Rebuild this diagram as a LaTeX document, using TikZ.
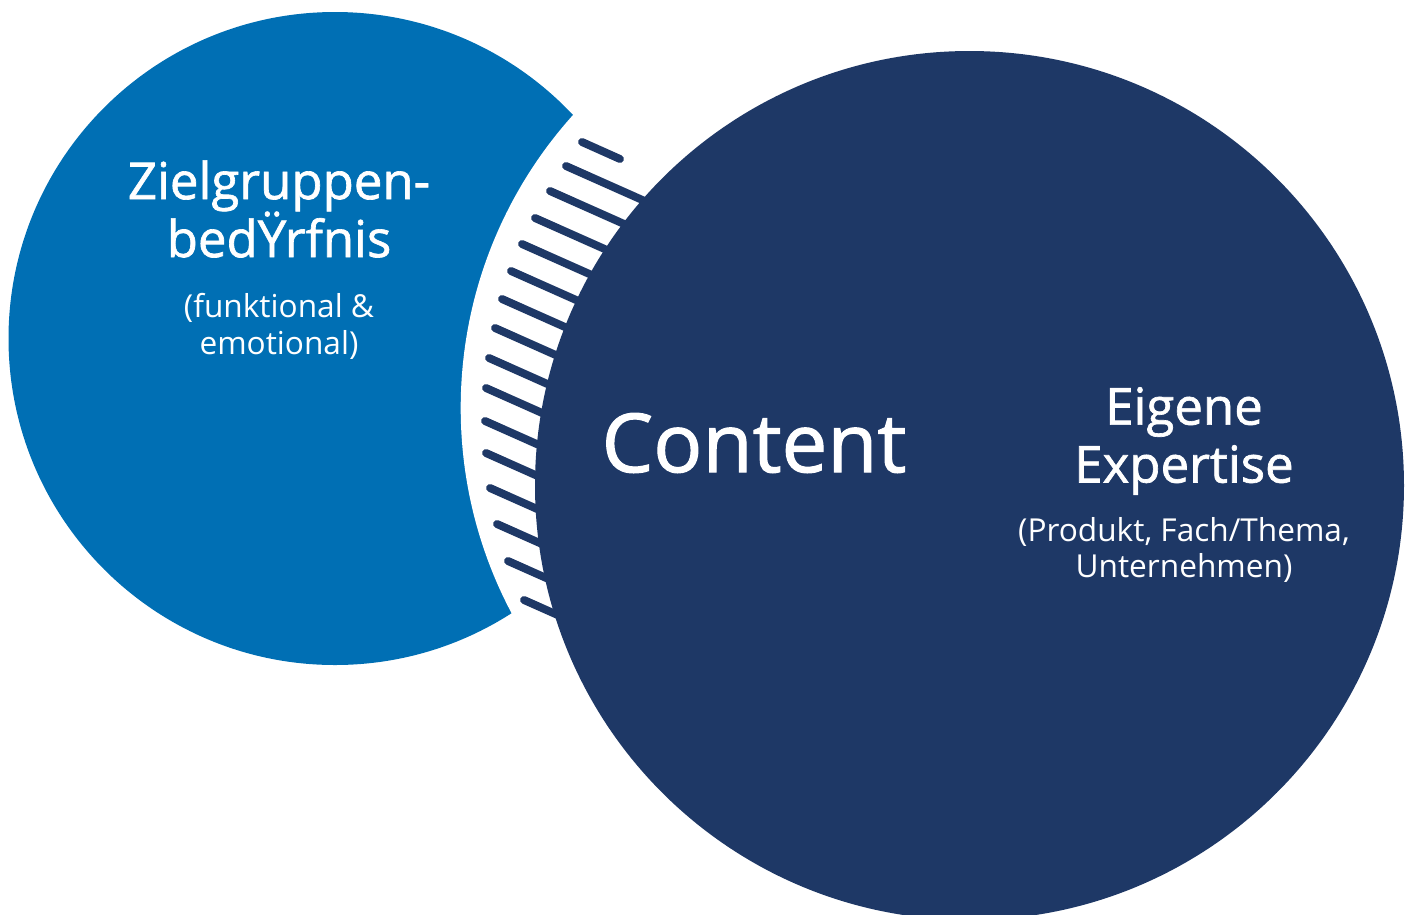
\documentclass[tikz,border=0pt]{standalone}
\usepackage{fontspec}
\setmainfont{Open Sans}
\newfontfamily\headfont{Open Sans}[FakeBold=1.3]

\definecolor{zielblau}{RGB}{0,111,180}
\definecolor{expertblau}{RGB}{30,56,102}

\begin{document}
\begin{tikzpicture}[
  x=0.02cm, y=-0.02cm,
  schraffur/.style={draw=expertblau, line width=4.5pt, line cap=round},
  titel/.style={text=white, align=center, inner sep=0pt,
    font=\headfont\fontsize{29}{33}\selectfont},
  zusatz/.style={text=white, align=center, inner sep=0pt,
    font=\fontsize{18}{21}\selectfont}
]
\useasboundingbox (0,0) rectangle (1411,914);
\clip (0,0) rectangle (1411,914);

% Zielgruppe, rechts ausgeschnitten
\fill[zielblau] (335,338.5) circle [radius=326.5];
\fill[white] (899,408) circle [radius=438.3];

% Schraffur im Zwischenraum
\draw[schraffur] (582,142) -- ++(38,17);
\foreach \x/\y in {566/166, 550/191, 535/218, 522/244, 511/271, 502/299,
                   495/328, 489/358, 486/388, 485/421, 486/453, 490/488,
                   497/524, 508/561, 524/600}
  \draw[schraffur] (\x,\y) -- ++(91,40.5);

% Expertise
\fill[expertblau] (969.5,485.5) circle [radius=434.5];

\node[titel] (ziel) at (279,209) {Zielgruppen-\\bedŸrfnis};
\node[zusatz] (zielzusatz) at (279,326) {(funktional \&\\emotional)};
\node[titel, font=\headfont\fontsize{46.5}{50}\selectfont] (content) at (754,443) {Content};
\node[titel] (expertise) at (1184,441) {Eigene\\Expertise};
\node[zusatz] (expertisezusatz) at (1184,550) {(Produkt, Fach/Thema,\\Unternehmen)};

\end{tikzpicture}
\end{document}
